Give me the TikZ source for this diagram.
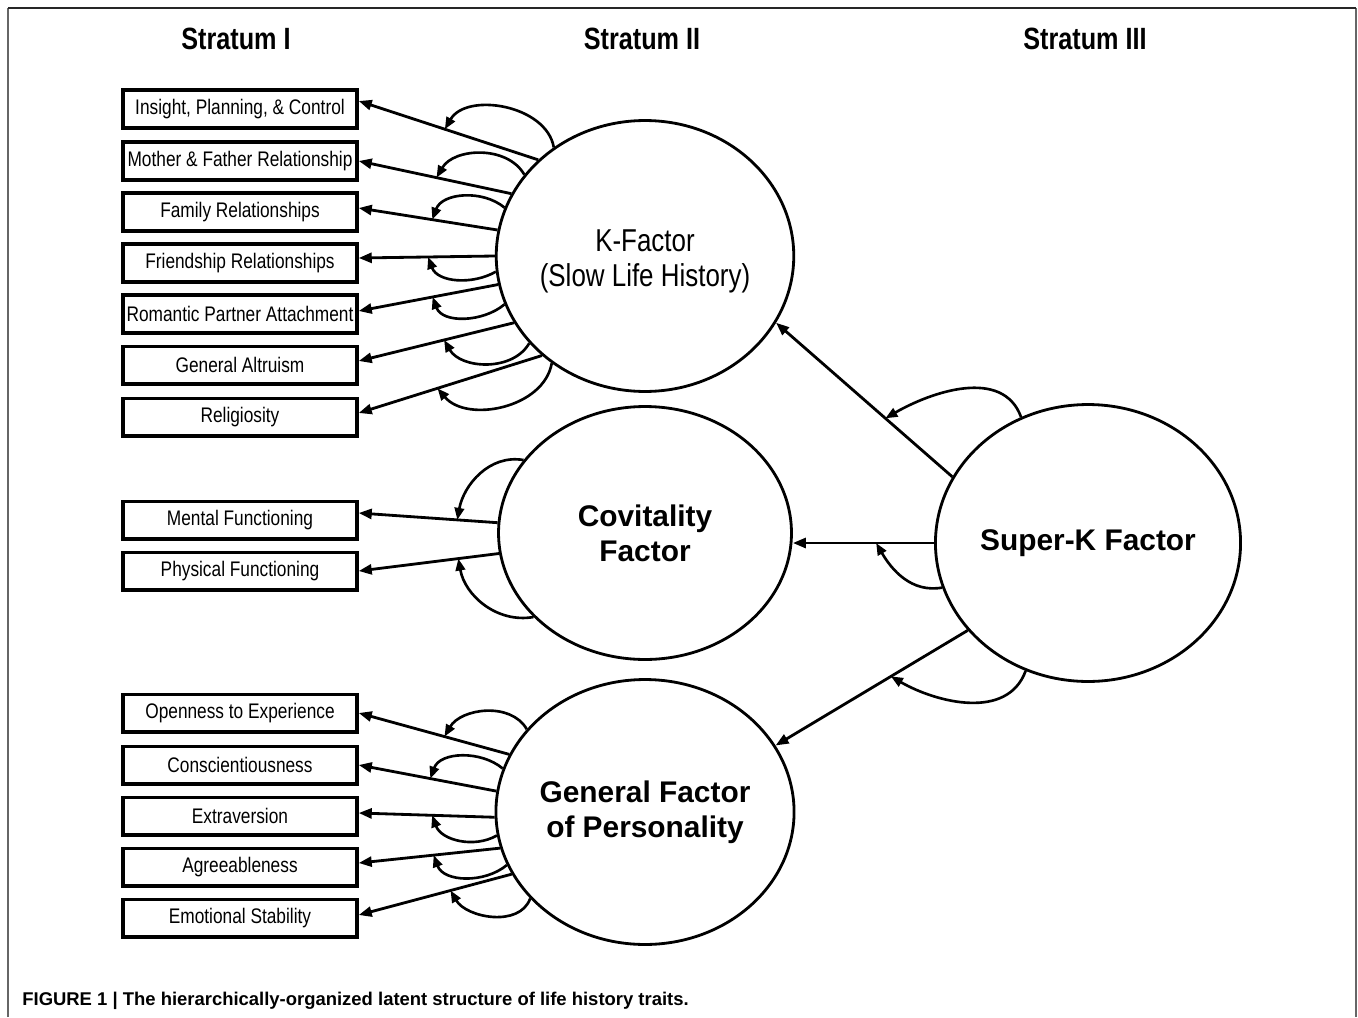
\documentclass[tikz,border=0pt]{standalone}
\usepackage{fontspec}
\setmainfont{Liberation Sans}
\newfontfamily\narrowfont{Liberation Sans}[FakeStretch=0.82]
\usetikzlibrary{arrows.meta,shapes.geometric}

\begin{document}
\begin{tikzpicture}[x=0.02cm,y=0.02cm,
  every node/.style={inner sep=0pt},
  item/.style={draw=black,line width=2pt,minimum width=4.68cm,minimum height=0.75cm,font=\narrowfont\fontsize{12}{14}\selectfont},
  factor/.style={draw=black,ellipse,line width=1.6pt,minimum width=5.86cm,align=center,font=\bfseries\fontsize{17}{20}\selectfont},
  head/.style={anchor=base,font=\narrowfont\bfseries\fontsize{17.5}{20}\selectfont},
  load/.style={line width=1.6pt,-{Triangle[length=0.26cm,width=0.2cm]}},
  cov/.style={line width=1.5pt,-{Triangle[length=0.24cm,width=0.19cm]}}]
  \useasboundingbox (0,0) rectangle (1358,-1017);

  \draw[black!60,line width=1.3pt] (8,-1017) -- (8,-8);
  \draw[black!60,line width=1.3pt] (1356,-1017) -- (1356,-8);
  \draw[black!85,line width=1.1pt] (8,-8) -- (1356,-8);

  \node[head] (h1) at (236,-50) {Stratum I};
  \node[head] (h2) at (642,-50) {Stratum II};
  \node[head] (h3) at (1085,-50) {Stratum III};

  \node[item] (i1) at (240,-109) {Insight, Planning, \& Control};
  \node[item] (i2) at (240,-161) {Mother \& Father Relationship};
  \node[item] (i3) at (240,-212) {Family Relationships};
  \node[item] (i4) at (240,-263) {Friendship Relationships};
  \node[item] (i5) at (240,-314) {Romantic Partner Attachment};
  \node[item] (i6) at (240,-365) {General Altruism};
  \node[item] (i7) at (240,-417) {Religiosity};
  \node[item] (i8) at (240,-520) {Mental Functioning};
  \node[item] (i9) at (240,-571) {Physical Functioning};
  \node[item] (i10) at (240,-713) {Openness to Experience};
  \node[item] (i11) at (240,-765) {Conscientiousness};
  \node[item] (i12) at (240,-816) {Extraversion};
  \node[item] (i13) at (240,-867) {Agreeableness};
  \node[item] (i14) at (240,-918) {Emotional Stability};

  \node[factor,minimum height=5.42cm,font=\narrowfont\fontsize{18}{20.4}\selectfont] (K) at (645,-256) {\rule{0pt}{0.65cm}K-Factor\\(Slow Life History)};
  \node[factor,minimum height=5.06cm] (C) at (645,-533) {Covitality\\Factor};
  \node[factor,minimum height=5.3cm] (G) at (645,-812) {General Factor\\of Personality};
  \node[factor,minimum height=5.54cm] (S) at (1088,-543) {Super-K Factor};

  \draw[load] (K.138) -- coordinate[pos=0.52] (k1) ([yshift=0.16cm]i1.east);
  \draw[load] (K.155) -- coordinate[pos=0.49] (k2) (i2.east);
  \draw[load] (K.170) -- coordinate[pos=0.47] (k3) ([yshift=0.08cm]i3.east);
  \draw[load] (K.180) -- coordinate[pos=0.49] (k4) ([yshift=0.1cm]i4.east);
  \draw[load] (K.191) -- coordinate[pos=0.47] (k5) ([yshift=0.06cm]i5.east);
  \draw[load] (K.207) -- coordinate[pos=0.45] (k6) ([yshift=0.08cm]i6.east);
  \draw[load] (K.224) -- coordinate[pos=0.57] (k7) ([yshift=0.08cm]i7.east);

  \draw[load] (C.176) -- coordinate[pos=0.29] (c1) ([yshift=0.14cm]i8.east);
  \draw[load] (C.188) -- coordinate[pos=0.29] (c2) (i9.east);

  \draw[load] (G.157) -- coordinate[pos=0.43] (g1) (i10.east);
  \draw[load] (G.172) -- coordinate[pos=0.48] (g2) (i11.east);
  \draw[load] (G.182) -- coordinate[pos=0.46] (g3) ([yshift=0.06cm]i12.east);
  \draw[load] (G.194) -- coordinate[pos=0.47] (g4) ([yshift=0.08cm]i13.east);
  \draw[load] (G.205) -- coordinate[pos=0.4] (g5) ([yshift=0.06cm]i14.east);

  \draw[load] (S.154) -- coordinate[pos=0.38] (s1) (K.333);
  \draw[load] (S.180) -- coordinate[pos=0.41] (s2) (S.180 -| C.east);
  \draw[load] (S.216) -- coordinate[pos=0.4] (s3) (G.27);

  \draw[cov] (K.130) to[out=100,in=60] (k1);
  \draw[cov] (K.146) to[out=120,in=60] (k2);
  \draw[cov] (K.161) to[out=140,in=70] (k3);
  \draw[cov] (K.186) to[out=210,in=-70] (k4);
  \draw[cov] (K.199) to[out=220,in=-70] (k5);
  \draw[cov] (K.217) to[out=240,in=-60] (k6);
  \draw[cov] (K.229) to[out=260,in=-50] (k7);

  \draw[cov] (C.149) to[out=170,in=80] (c1);
  \draw[cov] (C.217) to[out=190,in=-80] (c2);

  \draw[cov] (G.145) to[out=120,in=60] (g1);
  \draw[cov] (G.163) to[out=140,in=70] (g2);
  \draw[cov] (G.189) to[out=210,in=-70] (g3);
  \draw[cov] (G.201) to[out=220,in=-70] (g4);
  \draw[cov] (G.217) to[out=250,in=-60] (g5);

  \draw[cov] (S.118) to[out=110,in=30] (s1);
  \draw[cov] (S.197) to[out=190,in=-60] (s2);
  \draw[cov] (S.244) to[out=250,in=-30] (s3);

  \node[anchor=base west,font=\bfseries\fontsize{10.5}{13}\selectfont] (cap) at (22,-1005) {FIGURE 1 | The hierarchically-organized latent structure of life history traits.};
\end{tikzpicture}
\end{document}
